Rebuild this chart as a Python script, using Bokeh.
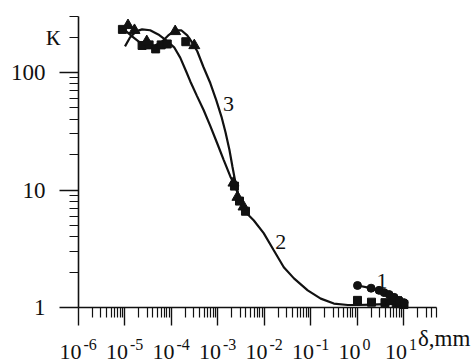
import math
from bokeh.plotting import figure
from bokeh.models import FixedTicker, CustomJSTickFormatter, ColumnDataSource, Label
from bokeh.core.properties import value
from bokeh.embed import file_html
from bokeh.resources import INLINE

# ---- data ----
# curve 2 (smooth fit, left branch)
c2_x = [1.0e-5, 1.28e-5, 1.73e-5, 2.33e-5, 3.47e-5, 5.2e-5, 7.7e-5, 1.14e-4, 1.54e-4, 2.07e-4,
        2.54e-4, 3.54e-4, 4.9e-4, 6.85e-4, 9.6e-4, 1.33e-3, 1.85e-3, 2.3e-3, 3.54e-3, 5.9e-3,
        9.6e-3, 0.0158, 0.026, 0.043, 0.085, 0.162, 0.31, 0.62, 1.02, 2.0, 4.0, 10.0]
c2_y = [167, 199, 224, 233, 229, 211, 188, 164, 134, 102,
        84, 63, 48, 35, 25, 18, 13, 11, 6.75, 5.5,
        4.3, 3.07, 2.2, 1.77, 1.40, 1.19, 1.08, 1.05, 1.05, 1.06, 1.07, 1.08]
# curve 3 (smooth fit, right branch)
c3_x = [9.5e-6, 1.42e-5, 2.11e-5, 3.14e-5, 4.45e-5, 6.3e-5, 8.5e-5, 1.2e-4, 1.62e-4, 2.18e-4,
        2.8e-4, 3.6e-4, 4.84e-4, 6.85e-4, 9.2e-4, 1.19e-3, 1.45e-3, 1.76e-3, 2.05e-3, 2.38e-3, 2.75e-3]
c3_y = [233, 203, 180, 170, 170, 184, 207, 229, 229, 207,
        180, 151, 112, 81, 58, 42, 31, 22, 15.7, 11.5, 9.1]
# series 2 (squares)
s2_x = [8.8e-6, 2.33e-5, 3.3e-5, 4.56e-5, 6.0e-5, 8.1e-5, 2.03e-4, 2.26e-3, 2.9e-3, 3.9e-3,
        1.0, 2.0, 3.9, 6.8, 10.0]
s2_y = [233, 170, 172, 159, 172, 175, 183, 10.8, 8.05, 6.6,
        1.15, 1.11, 1.10, 1.08, 1.06]
# series 3 (triangles)
s3_x = [1.16e-5, 1.6e-5, 2.94e-5, 1.2e-4, 3.09e-4, 2.15e-3, 2.62e-3, 3.54e-3, 5.2, 8.7]
s3_y = [252, 229, 184, 224, 170, 11.5, 8.7, 7.2, 1.15, 1.10]
# series 1 (circles, joined)
s1_x = [1.0, 1.96, 2.91, 3.73, 4.79, 6.14, 7.87, 10.0]
s1_y = [1.54, 1.46, 1.40, 1.34, 1.29, 1.22, 1.15, 1.10]

x_major = [1e-6, 1e-5, 1e-4, 1e-3, 1e-2, 1e-1, 1e0, 1e1]
x_base = ["10"] * 8
x_exp = ["-6", "-5", "-4", "-3", "-2", "-1", "0", "1"]
y_major = [1, 10, 100]
y_labels = ["1", "10", "100"]

x_minor = [k * 10.0 ** n for n in range(-6, 1) for k in range(2, 10)] + [20, 30, 40, 50]
y_minor = [k * 10.0 ** n for n in range(0, 2) for k in range(2, 10)] + [200, 300]

X_AXIS = (1e-6, 50)
Y_AXIS = (1, 300)

SERIF = "Liberation Serif"
INK = "#111111"

# ---- layout: the frame covers the whole canvas, axes are pinned inside ----
W, H = 476, 363
AX_L, AX_R, AX_T, AX_B = 78, 436, 16, 307      # axis box in pixels
lx0, lx1 = math.log10(X_AXIS[0]), math.log10(X_AXIS[1])
ly0, ly1 = math.log10(Y_AXIS[0]), math.log10(Y_AXIS[1])
kx = (lx1 - lx0) / (AX_R - AX_L)
ky = (ly1 - ly0) / (AX_B - AX_T)
x_rng = (10 ** (lx0 - AX_L * kx), 10 ** (lx1 + (W - AX_R) * kx))
y_rng = (10 ** (ly0 - (H - AX_B) * ky), 10 ** (ly1 + AX_T * ky))

p = figure(x_axis_type="log", y_axis_type="log",
           x_range=x_rng, y_range=y_rng,
           frame_width=W, frame_height=H, min_border=0,
           output_backend="svg", toolbar_location=None)
p.title.visible = False
p.outline_line_color = None
p.xgrid.grid_line_color = None
p.ygrid.grid_line_color = None
p.background_fill_color = "white"
p.border_fill_color = "white"

xa = p.xaxis[0]
xa.fixed_location = Y_AXIS[0]
xa.bounds = X_AXIS
xa.ticker = FixedTicker(ticks=x_major, minor_ticks=x_minor)
xa.formatter = CustomJSTickFormatter(code="return ' '")
xa.major_tick_in = 0
xa.major_tick_out = 18
xa.minor_tick_in = 0
xa.minor_tick_out = 10
xa.major_label_standoff = 0

ya = p.yaxis[0]
ya.fixed_location = X_AXIS[0]
ya.bounds = Y_AXIS
ya.ticker = FixedTicker(ticks=y_major, minor_ticks=y_minor)
ya.formatter = CustomJSTickFormatter(args=dict(labs=y_labels),
                                     code="return labs[index]")
ya.major_tick_in = 0
ya.major_tick_out = 19
ya.minor_tick_in = 0
ya.minor_tick_out = 9
ya.major_label_standoff = 14
ya.major_label_text_font = SERIF
ya.major_label_text_font_size = "23px"
ya.major_label_text_color = INK

for ax in (xa, ya):
    ax.axis_line_width = 1.6
    ax.axis_line_color = INK
    ax.major_tick_line_width = 1.4
    ax.minor_tick_line_width = 1.2
    ax.major_tick_line_color = INK
    ax.minor_tick_line_color = INK

# curves
p.line(c2_x, c2_y, line_color=INK, line_width=2.2)
p.line(c3_x, c3_y, line_color=INK, line_width=2.2)
p.line(s1_x, s1_y, line_color=INK, line_width=2.2)

# markers
p.scatter(s2_x, s2_y, marker="square", size=8, fill_color=INK, line_color=INK)
p.scatter(s3_x, s3_y, marker="triangle", size=11, fill_color=INK, line_color=INK)
p.scatter(s1_x, s1_y, marker="circle", size=8, fill_color=INK, line_color=INK)

# x tick labels 10^n as real text
src = ColumnDataSource(dict(x=x_major, y=[Y_AXIS[0]] * len(x_major), base=x_base, exp=x_exp))
p.text(x="x", y="y", text="base", source=src, x_offset=3, y_offset=44,
       text_align="right", text_baseline="alphabetic",
       text_font=value(SERIF), text_font_size="22px", text_color=INK)
p.text(x="x", y="y", text="exp", source=src, x_offset=5, y_offset=37,
       text_align="left", text_baseline="alphabetic",
       text_font=value(SERIF), text_font_size="16px", text_color=INK)

# axis titles
p.add_layout(Label(x=X_AXIS[0], y=200, text="К", x_offset=-18,
                   text_align="right", text_baseline="middle",
                   text_font=SERIF, text_font_size="22px", text_color=INK))
p.add_layout(Label(x=X_AXIS[1], y=Y_AXIS[0], text="δ,mm", x_offset=-18.5, y_offset=-31,
                   text_align="left", text_baseline="alphabetic",
                   text_font=SERIF, text_font_size="23px", text_color=INK))

# curve numbers
for t, lx, ly in (("3", 1.68e-3, 54.3), ("2", 0.0223, 3.6), ("1", 3.38, 1.67)):
    p.add_layout(Label(x=lx, y=ly, text=t, text_align="center", text_baseline="middle",
                       text_font=SERIF, text_font_size="22px", text_color=INK))

open("out.html", "w").write(file_html(p, INLINE))
